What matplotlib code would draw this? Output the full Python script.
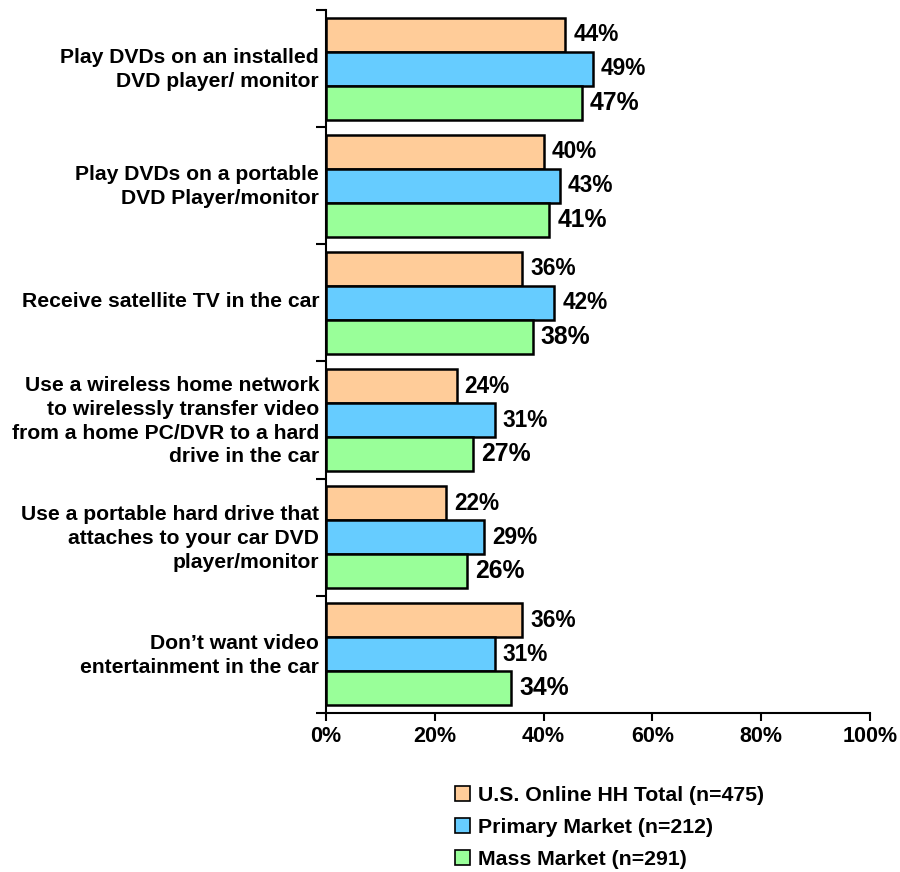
import matplotlib
matplotlib.use("Agg")
import matplotlib.pyplot as plt
from matplotlib.ticker import FixedLocator, FuncFormatter
from matplotlib.patches import Patch
import numpy as np

categories = [
    "Play DVDs on an installed\nDVD player/ monitor",
    "Play DVDs on a portable\nDVD Player/monitor",
    "Receive satellite TV in the car",
    "Use a wireless home network\nto wirelessly transfer video\nfrom a home PC/DVR to a hard\ndrive in the car",
    "Use a portable hard drive that\nattaches to your car DVD\nplayer/monitor",
    "Don\u2019t want video\nentertainment in the car",
]
series_names = [
    "U.S. Online HH Total (n=475)",
    "Primary Market (n=212)",
    "Mass Market (n=291)",
]
us_total = [44, 40, 36, 24, 22, 36]
primary = [49, 43, 42, 31, 29, 31]
mass = [47, 41, 38, 27, 26, 34]
x_ticks = [0, 20, 40, 60, 80, 100]

colors = ["#FFCC99", "#66CCFF", "#99FF99"]
label_sizes = [16.3, 16.3, 17.8]

plt.rcParams["font.family"] = ["Liberation Sans", "DejaVu Sans"]
plt.rcParams["font.weight"] = "bold"

fig = plt.figure(figsize=(9, 8.72), dpi=100)
ax = fig.add_axes([326 / 900, 1 - 713 / 872, (870 - 326) / 900, (713 - 10) / 872])

n = len(categories)
bar_h = 0.29
centers = np.arange(n)
offsets = [-bar_h, 0, bar_h]
for vals, col, off, fs in zip([us_total, primary, mass], colors, offsets, label_sizes):
    ys = centers + off
    ax.barh(ys, vals, height=bar_h, color=col, edgecolor="black", linewidth=1.8)
    for y, v in zip(ys, vals):
        ax.text(v + 1.5, y, f"{v}%", va="center", ha="left",
                fontsize=fs, fontweight="bold")

ax.set_ylim(n - 0.5, -0.5)
ax.set_xlim(0, 100)

ax.yaxis.set_major_locator(FixedLocator(centers - 0.03))
ax.set_yticklabels(categories, fontsize=15.2, fontweight="bold", linespacing=1.33)
ax.yaxis.set_minor_locator(FixedLocator(np.arange(n + 1) - 0.5))
ax.tick_params(axis="y", which="major", length=0, pad=5)
ax.tick_params(axis="y", which="minor", length=7, width=1.5, direction="out")

ax.xaxis.set_major_locator(FixedLocator(x_ticks))
ax.xaxis.set_major_formatter(FuncFormatter(lambda v, p: f"{int(v)}%"))
ax.tick_params(axis="x", length=6, width=1.5, direction="out", pad=3, labelsize=15.5)
for lab in ax.get_xticklabels():
    lab.set_fontweight("bold")

for side in ["top", "right"]:
    ax.spines[side].set_visible(False)
for side in ["left", "bottom"]:
    ax.spines[side].set_linewidth(1.5)
ax.spines["bottom"].set_bounds(0, 100)

handles = [Patch(facecolor=c, edgecolor="black", linewidth=1.2) for c in colors]
fig.legend(handles, series_names, loc="upper left",
           bbox_to_anchor=(444 / 900, 1 - 775 / 872), frameon=False,
           prop={"weight": "bold", "size": 15.3}, handlelength=0.72,
           handleheight=0.72, handletextpad=0.4, labelspacing=0.62,
           borderpad=0)

fig.savefig("out.png", dpi=100)
